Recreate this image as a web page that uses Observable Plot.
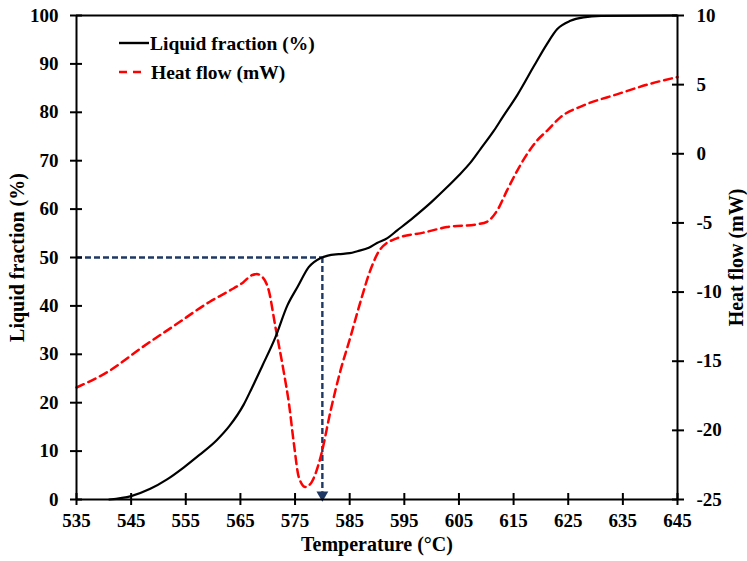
<!DOCTYPE html>
<html>
<head>
<meta charset="utf-8">
<script src="https://cdn.jsdelivr.net/npm/d3@7"></script>
<script src="https://cdn.jsdelivr.net/npm/@observablehq/plot@0.6"></script>
<style>
  html, body { margin: 0; padding: 0; background: #fff; }
  #wrap { position: relative; width: 747px; height: 561px; }
  #legend { position: absolute; left: 0; top: 0; pointer-events: none; }
</style>
</head>
<body>
<div id="wrap"></div>
<script>
// ---- data ----
const xTicks = [535, 545, 555, 565, 575, 585, 595, 605, 615, 625, 635, 645];
const leftTicks = [0, 10, 20, 30, 40, 50, 60, 70, 80, 90, 100];
const rightTicks = [-25, -20, -15, -10, -5, 0, 5, 10];

const lfTemp = [541, 545, 548.5, 551.5, 554.6, 557.5, 560.7, 563, 565.6, 567, 569, 571.4, 573.6, 575.5, 577.5, 579.7, 581, 583, 585, 586.4, 588.5, 590, 591.9, 593.7, 596.7, 600, 602.8, 605, 607.1, 609, 611.4, 613, 615.7, 618.7, 621.1, 623, 625.4, 627.8, 631, 645];
const lfValue = [0, 0.7, 2.2, 4.1, 6.6, 9.2, 12.3, 15.2, 19.6, 22.8, 27.6, 33.5, 40.1, 44, 48, 49.9, 50.4, 50.7, 50.9, 51.3, 52.0, 53, 54, 55.6, 58.3, 61.5, 64.5, 67, 69.6, 72.5, 76.2, 79.0, 83.6, 89.5, 94.1, 97.2, 98.9, 99.6, 99.9, 100];

const hfTemp = [535, 541, 547, 553, 559.4, 563, 565.5, 567, 568, 569, 570.2, 571.4, 572.9, 573.9, 574.8, 575.7, 576.9, 578.1, 579.7, 581.5, 583.3, 585.1, 586.9, 588.8, 590.6, 593.7, 598.5, 602.8, 608.3, 610.2, 612, 613.8, 615.7, 617.5, 619.3, 621.2, 623.6, 627.8, 633.9, 640, 645];
const hfValue = [-16.9, -15.7, -14.0, -12.4, -10.7, -9.9, -9.3, -8.8, -8.7, -8.9, -9.9, -12.5, -15.7, -18.1, -21.0, -23.4, -24.1, -23.7, -21.9, -18.6, -15.7, -13.3, -10.8, -8.4, -6.9, -6.1, -5.7, -5.3, -5.1, -4.9, -4.1, -2.65, -1.2, 0.0, 0.96, 1.7, 2.65, 3.5, 4.3, 5.06, 5.55];

const markerTemp = 580;
const markerFraction = 50;

// ---- derived tables ----
const hfMin = -25, hfMax = 10;
const toLeft = v => (v - hfMin) * 100 / (hfMax - hfMin);
const lf = lfTemp.map((t, i) => ({t, v: lfValue[i]}));
const hf = hfTemp.map((t, i) => ({t, v: toLeft(hfValue[i])}));

const font = "'Liberation Serif', 'Times New Roman', serif";
const blank = () => "";
const navy = "#1f3864";

const chart = Plot.plot({
  width: 747,
  height: 561,
  marginLeft: 76,
  marginRight: 70,
  marginTop: 15,
  marginBottom: 62,
  style: {fontFamily: font, fontSize: "19px", fontWeight: "bold", color: "#000", background: "#fff"},
  x: {domain: [535, 645]},
  y: {domain: [0, 100]},
  marks: [
    // frame top line
    Plot.ruleY([100], {stroke: "#000", strokeWidth: 2}),
    // guide lines
    Plot.ruleY([markerFraction], {x1: 535, x2: markerTemp, stroke: navy, strokeWidth: 2.4, strokeDasharray: "6,3"}),
    Plot.ruleX([markerTemp], {y1: markerFraction, y2: 1.5, stroke: navy, strokeWidth: 2.4, strokeDasharray: "6,3"}),
    Plot.dot([markerTemp], {x: d => d, y: 0, symbol: "triangle", rotate: 180, r: 4.4, fill: navy, stroke: "none", dy: -4.5}),
    // series
    Plot.line(hf, {x: "t", y: "v", stroke: "#ff0000", strokeWidth: 2.5, strokeDasharray: "8,5", curve: "monotone-x"}),
    Plot.line(lf, {x: "t", y: "v", stroke: "#000", strokeWidth: 2.2, curve: "monotone-x"}),
    // axes lines
    Plot.ruleX([535], {stroke: "#000", strokeWidth: 2}),
    Plot.ruleX([645], {stroke: "#000", strokeWidth: 2}),
    Plot.ruleY([0], {stroke: "#000", strokeWidth: 2}),
    // ticks crossing axes (labels blank)
    Plot.axisX({anchor: "bottom", ticks: xTicks, tickSize: 12, dy: -6, tickFormat: blank, label: null, strokeWidth: 2, stroke: "#000"}),
    Plot.axisY({anchor: "left", ticks: leftTicks, tickSize: 12, dx: 6, tickFormat: blank, label: null, strokeWidth: 2, stroke: "#000"}),
    Plot.axisY({anchor: "right", ticks: rightTicks.map(toLeft), tickSize: 12, dx: -6, tickFormat: blank, label: null, strokeWidth: 2, stroke: "#000"}),
    // tick labels
    Plot.axisX({anchor: "bottom", ticks: xTicks, tickSize: 0, tickPadding: 14, label: null, fill: "#000", fontWeight: "bold"}),
    Plot.axisY({anchor: "left", ticks: leftTicks, tickSize: 0, tickPadding: 18, label: null, fill: "#000", fontWeight: "bold"}),
    Plot.axisY({anchor: "right", ticks: rightTicks.map(toLeft), tickFormat: v => String(Math.round(v * 35 / 100 + hfMin)), tickSize: 0, tickPadding: 19, label: null, fill: "#000", fontWeight: "bold"}),
    // axis titles
    Plot.text(["Temperature (\u00B0C)"], {frameAnchor: "bottom", dy: 51, text: d => d, fontSize: 20, fontWeight: "bold", fill: "#000"}),
    Plot.text(["Liquid fraction (%)"], {frameAnchor: "left", textAnchor: "middle", dx: -59, rotate: -90, text: d => d, fontSize: 20, fontWeight: "bold", fill: "#000"}),
    Plot.text(["Heat flow (mW)"], {frameAnchor: "right", textAnchor: "middle", dx: 59, rotate: -90, text: d => d, fontSize: 20, fontWeight: "bold", fill: "#000"})
  ]
});

const wrap = document.getElementById("wrap");
wrap.appendChild(chart);

// legend overlay
const ns = "http://www.w3.org/2000/svg";
const lg = document.createElementNS(ns, "svg");
lg.setAttribute("id", "legend");
lg.setAttribute("width", 747);
lg.setAttribute("height", 561);
const legendItems = [
  {label: "Liquid fraction (%)", color: "#000", dash: null, y: 43, x1: 119, x2: 149, tx: 150},
  {label: "Heat flow (mW)", color: "#ff0000", dash: "8,6", y: 72, x1: 119, x2: 143, tx: 151}
];
for (const it of legendItems) {
  const ln = document.createElementNS(ns, "line");
  ln.setAttribute("x1", it.x1); ln.setAttribute("x2", it.x2);
  ln.setAttribute("y1", it.y); ln.setAttribute("y2", it.y);
  ln.setAttribute("stroke", it.color);
  ln.setAttribute("stroke-width", 2.4);
  if (it.dash) ln.setAttribute("stroke-dasharray", it.dash);
  lg.appendChild(ln);
  const tx = document.createElementNS(ns, "text");
  tx.setAttribute("x", it.tx);
  tx.setAttribute("y", it.y);
  tx.setAttribute("dy", "0.35em");
  tx.setAttribute("font-family", font);
  tx.setAttribute("font-weight", "bold");
  tx.setAttribute("font-size", "19.5px");
  tx.setAttribute("fill", "#000");
  tx.textContent = it.label;
  lg.appendChild(tx);
}
wrap.appendChild(lg);
</script>
</body>
</html>
